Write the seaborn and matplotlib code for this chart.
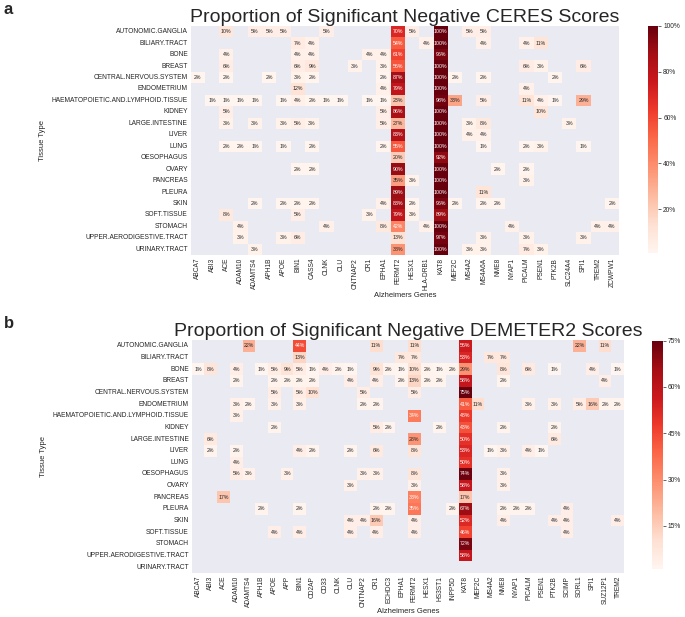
import numpy as np
import pandas as pd
import matplotlib
matplotlib.use('Agg')
import matplotlib.pyplot as plt
import seaborn as sns
from matplotlib.ticker import PercentFormatter

tissues = ['AUTONOMIC.GANGLIA', 'BILIARY.TRACT', 'BONE', 'BREAST', 'CENTRAL.NERVOUS.SYSTEM',
           'ENDOMETRIUM', 'HAEMATOPOIETIC.AND.LYMPHOID.TISSUE', 'KIDNEY', 'LARGE.INTESTINE',
           'LIVER', 'LUNG', 'OESOPHAGUS', 'OVARY', 'PANCREAS', 'PLEURA', 'SKIN', 'SOFT.TISSUE',
           'STOMACH', 'UPPER.AERODIGESTIVE.TRACT', 'URINARY.TRACT']

ceres_genes = ['ABCA7', 'ABI3', 'ACE', 'ADAM10', 'ADAMTS4', 'APH1B', 'APOE', 'BIN1', 'CASS4', 'CLNK',
               'CLU', 'CNTNAP2', 'CR1', 'EPHA1', 'FERMT2', 'HESX1', 'HLA-DRB1', 'KAT8', 'MEF2C', 'MS4A2',
               'MS4A6A', 'NME8', 'NYAP1', 'PICALM', 'PSEN1', 'PTK2B', 'SLC24A4', 'SPI1', 'TREM2', 'ZCWPW1']

demeter_genes = ['ABCA7', 'ABI3', 'ACE', 'ADAM10', 'ADAMTS4', 'APH1B', 'APOE', 'APP', 'BIN1', 'CD2AP',
                 'CD33', 'CLNK', 'CLU', 'CNTNAP2', 'CR1', 'ECHDC3', 'EPHA1', 'FERMT2', 'HESX1', 'HS3ST1',
                 'INPP5D', 'KAT8', 'MEF2C', 'MS4A2', 'NME8', 'NYAP1', 'PICALM', 'PSEN1', 'PTK2B', 'SCIMP',
                 'SORL1', 'SPI1', 'SUZ12P1', 'TREM2']

# percent of cell lines, 0 = not significant (left blank)
ceres_pct = [
    [0, 0, 10, 0, 5, 5, 5, 0, 0, 5,  0, 0, 0, 0, 70, 5, 0, 100, 0, 5,  5, 0, 0, 0, 0, 0, 0, 0, 0, 0],
    [0, 0, 0, 0, 0, 0, 0, 7, 4, 0,  0, 0, 0, 0, 54, 0, 4, 100, 0, 0,  4, 0, 0, 4, 11, 0, 0, 0, 0, 0],
    [0, 0, 4, 0, 0, 0, 0, 4, 4, 0,  0, 0, 4, 4, 61, 0, 0, 96, 0, 0,  0, 0, 0, 0, 0, 0, 0, 0, 0, 0],
    [0, 0, 6, 0, 0, 0, 0, 6, 9, 0,  0, 3, 0, 3, 56, 0, 0, 100, 0, 0,  0, 0, 0, 6, 3, 0, 0, 6, 0, 0],
    [2, 0, 2, 0, 0, 2, 0, 3, 2, 0,  0, 0, 0, 2, 87, 0, 0, 100, 2, 0,  2, 0, 0, 0, 0, 2, 0, 0, 0, 0],
    [0, 0, 0, 0, 0, 0, 0, 12, 0, 0,  0, 0, 0, 4, 79, 0, 0, 100, 0, 0,  0, 0, 0, 4, 0, 0, 0, 0, 0, 0],
    [0, 1, 1, 1, 1, 0, 1, 4, 2, 1,  1, 0, 1, 1, 23, 0, 0, 98, 33, 0,  5, 0, 0, 11, 4, 1, 0, 29, 0, 0],
    [0, 0, 5, 0, 0, 0, 0, 0, 0, 0,  0, 0, 0, 5, 86, 0, 0, 100, 0, 0,  0, 0, 0, 0, 10, 0, 0, 0, 0, 0],
    [0, 0, 3, 0, 3, 0, 3, 5, 3, 0,  0, 0, 0, 5, 27, 0, 0, 100, 0, 3,  8, 0, 0, 0, 0, 0, 3, 0, 0, 0],
    [0, 0, 0, 0, 0, 0, 0, 0, 0, 0,  0, 0, 0, 0, 83, 0, 0, 100, 0, 4,  4, 0, 0, 0, 0, 0, 0, 0, 0, 0],
    [0, 0, 2, 2, 1, 0, 1, 0, 2, 0,  0, 0, 0, 2, 55, 0, 0, 100, 0, 0,  1, 0, 0, 2, 3, 0, 0, 1, 0, 0],
    [0, 0, 0, 0, 0, 0, 0, 0, 0, 0,  0, 0, 0, 0, 20, 0, 0, 92, 0, 0,  0, 0, 0, 0, 0, 0, 0, 0, 0, 0],
    [0, 0, 0, 0, 0, 0, 0, 2, 2, 0,  0, 0, 0, 0, 90, 0, 0, 100, 0, 0,  0, 2, 0, 2, 0, 0, 0, 0, 0, 0],
    [0, 0, 0, 0, 0, 0, 0, 0, 0, 0,  0, 0, 0, 0, 35, 3, 0, 100, 0, 0,  0, 0, 0, 3, 0, 0, 0, 0, 0, 0],
    [0, 0, 0, 0, 0, 0, 0, 0, 0, 0,  0, 0, 0, 0, 89, 0, 0, 100, 0, 0,  11, 0, 0, 0, 0, 0, 0, 0, 0, 0],
    [0, 0, 0, 0, 2, 0, 2, 2, 2, 0,  0, 0, 0, 4, 88, 2, 0, 96, 2, 0,  2, 2, 0, 0, 0, 0, 0, 0, 0, 2],
    [0, 0, 8, 0, 0, 0, 0, 5, 0, 0,  0, 0, 3, 0, 79, 3, 0, 89, 0, 0,  0, 0, 0, 0, 0, 0, 0, 0, 0, 0],
    [0, 0, 0, 4, 0, 0, 0, 0, 0, 4,  0, 0, 0, 8, 42, 0, 4, 100, 0, 0,  0, 0, 4, 0, 0, 0, 0, 0, 4, 4],
    [0, 0, 0, 3, 0, 0, 3, 6, 0, 0,  0, 0, 0, 0, 13, 0, 0, 97, 0, 0,  3, 0, 0, 3, 0, 0, 0, 3, 0, 0],
    [0, 0, 0, 0, 3, 0, 0, 0, 0, 0,  0, 0, 0, 0, 38, 0, 0, 100, 0, 3,  3, 0, 0, 7, 3, 0, 0, 0, 0, 0],
]

demeter_pct = [
    [0, 0, 0, 0, 22, 0, 0, 0, 44, 0,  0, 0, 0, 0, 11, 0, 0, 11, 0, 0,  0, 56, 0, 0, 0, 0, 0, 0, 0, 0,  22, 0, 11, 0],
    [0, 0, 0, 0, 0, 0, 0, 0, 13, 0,  0, 0, 0, 0, 0, 0, 7, 7, 0, 0,  0, 53, 0, 7, 7, 0, 0, 0, 0, 0,  0, 0, 0, 0],
    [1, 8, 0, 4, 0, 1, 5, 9, 5, 1,  4, 2, 1, 0, 9, 2, 1, 10, 2, 1,  2, 29, 0, 0, 8, 0, 6, 0, 1, 0,  0, 4, 0, 1],
    [0, 0, 0, 2, 0, 0, 2, 2, 2, 2,  0, 0, 4, 0, 4, 0, 2, 13, 2, 2,  0, 58, 0, 0, 2, 0, 0, 0, 0, 0,  0, 0, 4, 0],
    [0, 0, 0, 0, 0, 0, 5, 0, 5, 10,  0, 0, 0, 5, 0, 0, 0, 5, 0, 0,  0, 75, 0, 0, 0, 0, 0, 0, 0, 0,  0, 0, 0, 0],
    [0, 0, 0, 3, 2, 0, 3, 0, 3, 0,  0, 0, 0, 2, 2, 0, 0, 0, 0, 0,  0, 41, 11, 0, 0, 0, 3, 0, 3, 0,  5, 16, 2, 2],
    [0, 0, 0, 3, 0, 0, 0, 0, 0, 0,  0, 0, 0, 0, 0, 0, 0, 34, 0, 0,  0, 48, 0, 0, 0, 0, 0, 0, 0, 0,  0, 0, 0, 0],
    [0, 0, 0, 0, 0, 0, 2, 0, 0, 0,  0, 0, 0, 0, 5, 2, 0, 0, 0, 2,  0, 43, 0, 0, 2, 0, 0, 0, 2, 0,  0, 0, 0, 0],
    [0, 6, 0, 0, 0, 0, 0, 0, 0, 0,  0, 0, 0, 0, 0, 0, 0, 28, 0, 0,  0, 50, 0, 0, 0, 0, 0, 0, 6, 0,  0, 0, 0, 0],
    [0, 2, 0, 2, 0, 0, 0, 0, 4, 2,  0, 0, 2, 0, 6, 0, 0, 8, 0, 0,  0, 53, 0, 1, 3, 0, 4, 1, 0, 0,  0, 0, 0, 0],
    [0, 0, 0, 4, 0, 0, 0, 0, 0, 0,  0, 0, 0, 0, 0, 0, 0, 0, 0, 0,  0, 50, 0, 0, 0, 0, 0, 0, 0, 0,  0, 0, 0, 0],
    [0, 0, 0, 5, 3, 0, 0, 3, 0, 0,  0, 0, 0, 3, 3, 0, 0, 8, 0, 0,  0, 74, 0, 0, 3, 0, 0, 0, 0, 0,  0, 0, 0, 0],
    [0, 0, 0, 0, 0, 0, 0, 0, 0, 0,  0, 0, 3, 0, 0, 0, 0, 3, 0, 0,  0, 58, 0, 0, 3, 0, 0, 0, 0, 0,  0, 0, 0, 0],
    [0, 0, 17, 0, 0, 0, 0, 0, 0, 0,  0, 0, 0, 0, 0, 0, 0, 33, 0, 0,  0, 17, 0, 0, 0, 0, 0, 0, 0, 0,  0, 0, 0, 0],
    [0, 0, 0, 0, 0, 2, 0, 0, 2, 0,  0, 0, 0, 0, 2, 2, 0, 35, 0, 0,  2, 67, 0, 0, 2, 2, 2, 0, 0, 4,  0, 0, 0, 0],
    [0, 0, 0, 0, 0, 0, 0, 0, 0, 0,  0, 0, 4, 4, 16, 0, 0, 4, 0, 0,  0, 52, 0, 0, 4, 0, 0, 0, 4, 4,  0, 0, 0, 4],
    [0, 0, 0, 0, 0, 0, 4, 0, 4, 0,  0, 0, 4, 0, 4, 0, 0, 4, 0, 0,  0, 46, 0, 0, 0, 0, 0, 0, 0, 4,  0, 0, 0, 0],
    [0, 0, 0, 0, 0, 0, 0, 0, 0, 0,  0, 0, 0, 0, 0, 0, 0, 0, 0, 0,  0, 72, 0, 0, 0, 0, 0, 0, 0, 0,  0, 0, 0, 0],
    [0, 0, 0, 0, 0, 0, 0, 0, 0, 0,  0, 0, 0, 0, 0, 0, 0, 0, 0, 0,  0, 58, 0, 0, 0, 0, 0, 0, 0, 0,  0, 0, 0, 0],
    [0, 0, 0, 0, 0, 0, 0, 0, 0, 0,  0, 0, 0, 0, 0, 0, 0, 0, 0, 0,  0, 0, 0, 0, 0, 0, 0, 0, 0, 0,  0, 0, 0, 0],
]

ceres_ticks = [20, 40, 60, 80, 100]
demeter_ticks = [15, 30, 45, 60, 75]


def draw_panel(ax, cax, values, genes, ticks, title):
    df = pd.DataFrame(values, index=tissues, columns=genes)
    mask = df == 0
    labels = df.map(lambda v: f'{v}%' if v else '')
    sns.heatmap(df, mask=mask, cmap='Reds', annot=labels.values, fmt='',
                annot_kws={'size': 3.8}, ax=ax, cbar_ax=cax,
                cbar_kws={'format': PercentFormatter(100, decimals=0), 'ticks': ticks},
                xticklabels=True, yticklabels=True)
    ax.grid(False)
    ax.set_title(title, fontsize=14, pad=3)
    ax.set_xlabel('Alzheimers Genes', fontsize=5.5, labelpad=1)
    ax.set_ylabel('Tissue Type', fontsize=5.5)
    ax.tick_params(axis='both', labelsize=4.8, length=0, pad=2)
    plt.setp(ax.get_xticklabels(), rotation=90)
    plt.setp(ax.get_yticklabels(), rotation=0)
    cax.tick_params(right=True, length=2.5, width=0.5, labelsize=4.8, pad=1)


def main():
    sns.set_theme(style='darkgrid')
    plt.rcParams['font.family'] = ['Liberation Sans', 'DejaVu Sans']

    fig = plt.figure(figsize=(6.85, 6.17), dpi=100)
    W, H = 685, 617

    def box(x0, y0, x1, y1):
        return [x0 / W, 1 - y1 / H, (x1 - x0) / W, (y1 - y0) / H]

    ax_a = fig.add_axes(box(190.6, 26, 619.3, 255))
    cax_a = fig.add_axes(box(647.7, 25.7, 658.3, 253))
    ax_b = fig.add_axes(box(191.7, 340, 624.2, 573))
    cax_b = fig.add_axes(box(652.3, 340.7, 662.7, 569))

    draw_panel(ax_a, cax_a, ceres_pct, ceres_genes, ceres_ticks,
               'Proportion of Significant Negative CERES Scores')
    draw_panel(ax_b, cax_b, demeter_pct, demeter_genes, demeter_ticks,
               'Proportion of Significant Negative DEMETER2 Scores')

    fig.text(4 / W, 1 - 9 / H, 'a', fontsize=12, fontweight='bold', va='center')
    fig.text(4 / W, 1 - 323 / H, 'b', fontsize=12, fontweight='bold', va='center')

    fig.savefig('out.png', dpi=100)
    plt.close(fig)


if __name__ == '__main__':
    main()
